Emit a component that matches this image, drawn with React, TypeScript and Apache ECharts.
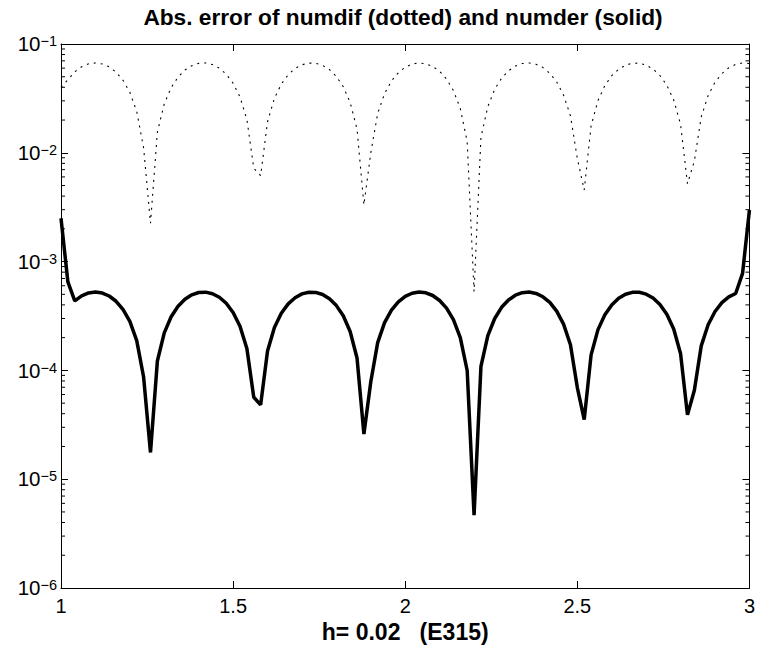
import React, { useEffect, useRef } from "react";
import * as echarts from "echarts";

// x grid: 1.00 : 0.02 : 3.00
const xValues: number[] = Array.from({ length: 101 }, (_, i) => +(1 + i * 0.02).toFixed(2));

// abs. error of numdif (dotted)
const numdifErr: number[] = [
  4.0e-2, 4.69e-2, 5.55e-2, 6.18e-2, 6.57e-2, 6.70e-2, 6.56e-2, 6.16e-2, 5.52e-2, 4.65e-2,
  3.60e-2, 2.40e-2, 1.11e-2, 2.25e-3, 1.55e-2, 2.82e-2, 3.97e-2, 4.96e-2, 5.76e-2, 6.32e-2,
  6.64e-2, 6.69e-2, 6.47e-2, 6.00e-2, 5.28e-2, 4.36e-2, 3.26e-2, 2.03e-2, 7.22e-3, 6.16e-3,
  1.93e-2, 3.17e-2, 4.28e-2, 5.22e-2, 5.95e-2, 6.44e-2, 6.68e-2, 6.65e-2, 6.36e-2, 5.81e-2,
  5.03e-2, 4.05e-2, 2.91e-2, 1.65e-2, 3.32e-3, 1.00e-2, 2.30e-2, 3.50e-2, 4.57e-2, 5.45e-2,
  6.12e-2, 6.54e-2, 6.70e-2, 6.59e-2, 6.22e-2, 5.61e-2, 4.77e-2, 3.73e-2, 2.55e-2, 1.27e-2,
  5.3e-4, 1.39e-2, 2.66e-2, 3.83e-2, 4.85e-2, 5.67e-2, 6.27e-2, 6.61e-2, 6.69e-2, 6.51e-2,
  6.07e-2, 5.38e-2, 4.48e-2, 3.40e-2, 2.19e-2, 8.87e-3, 4.55e-3, 1.77e-2, 3.02e-2, 4.15e-2,
  5.11e-2, 5.87e-2, 6.39e-2, 6.66e-2, 6.67e-2, 6.41e-2, 5.89e-2, 5.14e-2, 4.18e-2, 3.06e-2,
  1.82e-2, 5.2e-3, 8.40e-3, 2.14e-2, 3.36e-2, 4.45e-2, 5.35e-2, 6.05e-2, 6.50e-2, 6.69e-2,
  6.62e-2,
];

// abs. error of numder (solid)
const numderErr: number[] = [
  2.5e-3, 6.5e-4, 4.35e-4, 4.84e-4, 5.15e-4, 5.25e-4, 5.14e-4, 4.83e-4, 4.32e-4, 3.64e-4,
  2.82e-4, 1.88e-4, 8.69e-5, 1.76e-5, 1.22e-4, 2.21e-4, 3.11e-4, 3.89e-4, 4.51e-4, 4.95e-4,
  5.20e-4, 5.24e-4, 5.07e-4, 4.70e-4, 4.14e-4, 3.41e-4, 2.55e-4, 1.59e-4, 5.66e-5, 4.82e-5,
  1.51e-4, 2.48e-4, 3.35e-4, 4.09e-4, 4.66e-4, 5.05e-4, 5.23e-4, 5.21e-4, 4.98e-4, 4.55e-4,
  3.94e-4, 3.18e-4, 2.28e-4, 1.30e-4, 2.60e-5, 7.87e-5, 1.80e-4, 2.75e-4, 3.58e-4, 4.27e-4,
  4.79e-4, 5.12e-4, 5.25e-4, 5.17e-4, 4.88e-4, 4.39e-4, 3.74e-4, 2.93e-4, 2.00e-4, 9.98e-5,
  4.67e-6, 1.09e-4, 2.09e-4, 3.00e-4, 3.80e-4, 4.44e-4, 4.91e-4, 5.18e-4, 5.25e-4, 5.10e-4,
  4.75e-4, 4.22e-4, 3.51e-4, 2.66e-4, 1.72e-4, 6.95e-5, 3.53e-5, 1.39e-4, 2.37e-4, 3.25e-4,
  4.00e-4, 4.60e-4, 5.01e-4, 5.22e-4, 5.23e-4, 5.02e-4, 4.62e-4, 4.03e-4, 3.28e-4, 2.40e-4,
  1.42e-4, 3.90e-5, 6.58e-5, 1.68e-4, 2.63e-4, 3.48e-4, 4.19e-4, 4.74e-4, 5.09e-4, 7.8e-4,
  2.98e-3,
];

const xTickLabels: string[] = ["1", "1.5", "2", "2.5", "3"];
const titleText = "Abs. error of numdif (dotted) and numder (solid)";
const xLabelText = "h= 0.02   (E315)";

const X_MIN = 1;
const X_MAX = 3;
const Y_MIN = 1e-6;
const Y_MAX = 1e-1;

const FONT = "'Liberation Sans', Arial, Helvetica, sans-serif";

export default function App() {
  const ref = useRef<HTMLDivElement>(null);

  useEffect(() => {
    if (!ref.current) return;
    const chart = echarts.init(ref.current, null, { renderer: "svg" });

    const minorVals: number[] = [];
    for (let e = -6; e < -1; e++) {
      for (let m = 2; m <= 9; m++) minorVals.push(m * Math.pow(10, e));
    }

    const fmtY = (v: number) => {
      const e = Math.round(Math.log10(v));
      return `{b|10}{s|${e < 0 ? "\u2212" : ""}${Math.abs(e)}}`;
    };

    const option: any = {
      animation: false,
      backgroundColor: "#ffffff",
      textStyle: { fontFamily: FONT },
      title: {
        text: titleText,
        left: 403,
        textAlign: "center",
        top: 5,
        padding: 0,
        textStyle: { fontFamily: FONT, fontSize: 22.7, fontWeight: "bold", color: "#000" },
      },
      grid: { left: 61, right: 8, top: 44, bottom: 61, containLabel: false },
      xAxis: [
        {
          type: "value",
          min: X_MIN,
          max: X_MAX,
          interval: 0.5,
          position: "bottom",
          axisLine: { show: true, onZero: false, lineStyle: { color: "#000", width: 1 } },
          axisTick: { show: true, inside: true, length: 7, lineStyle: { color: "#000" } },
          splitLine: { show: false },
          axisLabel: {
            color: "#000",
            fontSize: 20,
            fontFamily: FONT,
            margin: 8,
            formatter: (v: number) => {
              const i = Math.round((v - X_MIN) / 0.5);
              return xTickLabels[i] ?? String(v);
            },
          },
          name: xLabelText,
          nameLocation: "middle",
          nameGap: 27,
          nameTextStyle: { color: "#000", fontSize: 23, fontWeight: "bold", fontFamily: FONT },
        },
        {
          type: "value",
          min: X_MIN,
          max: X_MAX,
          interval: 0.5,
          position: "top",
          axisLine: { show: true, onZero: false, lineStyle: { color: "#000", width: 1 } },
          axisTick: { show: true, inside: true, length: 7, lineStyle: { color: "#000" } },
          splitLine: { show: false },
          axisLabel: { show: false },
        },
      ],
      yAxis: [
        {
          type: "log",
          logBase: 10,
          min: Y_MIN,
          max: Y_MAX,
          position: "left",
          axisLine: { show: true, onZero: false, lineStyle: { color: "#000", width: 1 } },
          axisTick: { show: true, inside: true, length: 7, lineStyle: { color: "#000" } },
          minorTick: { show: false },
          splitLine: { show: false },
          axisLabel: {
            color: "#000",
            margin: 4,
            formatter: fmtY,
            rich: {
              b: { fontSize: 20.5, fontFamily: FONT, color: "#000", lineHeight: 20.5, padding: [5.5, 0, 0, 0], verticalAlign: "bottom" },
              s: { fontSize: 14.5, fontFamily: FONT, color: "#000", lineHeight: 14.5, verticalAlign: "top" },
            },
          },
        },
        {
          type: "log",
          logBase: 10,
          min: Y_MIN,
          max: Y_MAX,
          position: "right",
          axisLine: { show: true, onZero: false, lineStyle: { color: "#000", width: 1 } },
          axisTick: { show: true, inside: true, length: 7, lineStyle: { color: "#000" } },
          splitLine: { show: false },
          axisLabel: { show: false },
        },
      ],
      series: [
        {
          name: "numdif",
          type: "line",
          data: xValues.map((x, i) => [x, numdifErr[i]]),
          showSymbol: false,
          symbol: "none",
          lineStyle: { color: "#000", width: 1.1, type: [2, 5] },
          silent: true,
          z: 3,
        },
        {
          name: "numder",
          type: "line",
          data: xValues.map((x, i) => [x, numderErr[i]]),
          showSymbol: false,
          symbol: "none",
          lineStyle: { color: "#000", width: 3.5 },
          silent: true,
          z: 4,
        },
        {
          name: "minorTicks",
          type: "custom",
          silent: true,
          clip: false,
          data: minorVals.map((v) => [X_MIN, v]),
          renderItem: (params: any, api: any) => {
            const v = api.value(1);
            const pl = api.coord([X_MIN, v]);
            const pr = api.coord([X_MAX, v]);
            return {
              type: "group",
              children: [
                { type: "line", shape: { x1: pl[0], y1: pl[1], x2: pl[0] + 4, y2: pl[1] }, style: { stroke: "#000", lineWidth: 1 } },
                { type: "line", shape: { x1: pr[0], y1: pr[1], x2: pr[0] - 4, y2: pr[1] }, style: { stroke: "#000", lineWidth: 1 } },
              ],
            };
          },
          z: 5,
        },
      ],
    };

    chart.setOption(option);
    return () => chart.dispose();
  }, []);

  return (
    <div
      ref={ref}
      style={{ position: "absolute", left: 0, top: 0, width: 758, height: 649, background: "#fff" }}
    />
  );
}
